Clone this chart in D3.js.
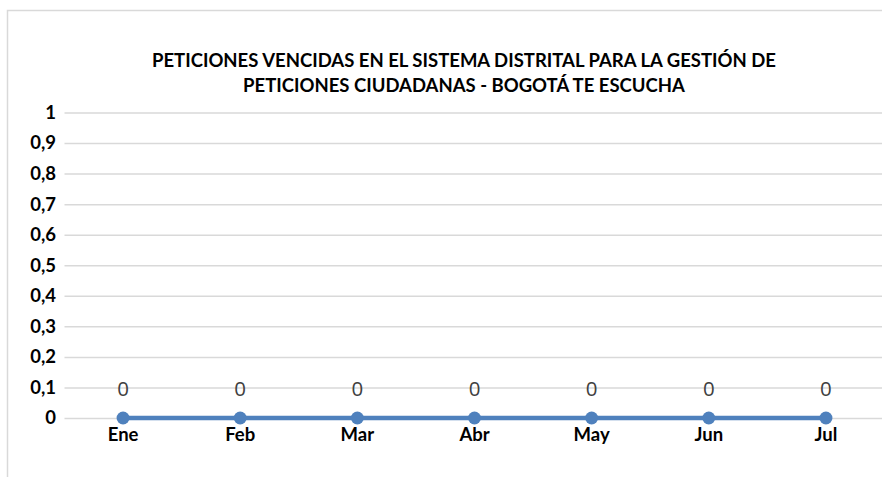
<!DOCTYPE html>
<html>
<head>
<meta charset="utf-8">
<script src="https://cdn.jsdelivr.net/npm/d3@7"></script>
<style>
  body { margin: 0; background: #fff; }
  svg { display: block; font-family: Lato, "Open Sans", sans-serif; }
</style>
</head>
<body>
<div id="chart"></div>
<script>
// data
var months = ["Ene", "Feb", "Mar", "Abr", "May", "Jun", "Jul"];
var values = [0, 0, 0, 0, 0, 0, 0];
var yTicks = [0, 0.1, 0.2, 0.3, 0.4, 0.5, 0.6, 0.7, 0.8, 0.9, 1];
var titleLines = ["PETICIONES VENCIDAS EN EL SISTEMA DISTRITAL PARA LA GESTIÓN DE",
                  "PETICIONES CIUDADANAS - BOGOTÁ TE ESCUCHA"];

var w = 882;
var h = 477;
var plotLeft = 64.5, plotRight = 884.5, plotTop = 112.5, plotBottom = 418;

var svg = d3.select("#chart")
            .append("svg")
            .attr("width", w)
            .attr("height", h);

// chart border (runs off the right and bottom edges)
svg.append("rect")
   .attr("x", 7.5).attr("y", 10.5)
   .attr("width", 900).attr("height", 500)
   .attr("fill", "none")
   .attr("stroke", "#d9d9d9")
   .attr("stroke-width", 1.5);

svg.selectAll("text.title")
   .data(titleLines)
   .enter()
   .append("text")
   .attr("class", "title")
   .attr("x", 464)
   .attr("y", function(d, i) { return 67 + i * 25; })
   .attr("text-anchor", "middle")
   .attr("font-size", "18.5px")
   .attr("font-weight", "bold")
   .attr("fill", "#000")
   .text(function(d) { return d; });

var x = d3.scaleBand().domain(months).range([plotLeft, plotRight]);
var y = d3.scaleLinear().domain([0, 1]).range([plotBottom, plotTop]);

var fmt = function(d) { return String(d).replace(".", ","); };

// gridlines
svg.append("g")
   .attr("transform", "translate(" + plotLeft + ",0)")
   .call(d3.axisLeft(y).tickValues(yTicks).tickSize(-(plotRight - plotLeft)).tickFormat(""))
   .call(function(g) {
       g.select(".domain").remove();
       g.selectAll(".tick line").attr("stroke", "#d9d9d9").attr("stroke-width", 1.5);
   });

// y labels
svg.append("g")
   .attr("transform", "translate(56,0)")
   .call(d3.axisLeft(y).tickValues(yTicks).tickSize(0).tickPadding(0).tickFormat(fmt))
   .call(function(g) {
       g.select(".domain").remove();
       g.selectAll(".tick text")
        .attr("font-size", "18.5px")
        .attr("font-weight", "bold")
        .attr("font-family", "Lato, sans-serif")
        .attr("fill", "#000");
   });

// x labels
svg.append("g")
   .attr("transform", "translate(0," + plotBottom + ")")
   .call(d3.axisBottom(x).tickSize(0).tickPadding(10))
   .call(function(g) {
       g.select(".domain").remove();
       g.selectAll(".tick text")
        .attr("font-size", "18.5px")
        .attr("font-weight", "bold")
        .attr("font-family", "Lato, sans-serif")
        .attr("fill", "#000");
   });

var cx = function(d, i) { return x(months[i]) + x.bandwidth() / 2; };

var line = d3.line()
   .x(function(d, i) { return cx(d, i); })
   .y(function(d) { return y(d); });

svg.append("path")
   .datum(values)
   .attr("d", line)
   .attr("fill", "none")
   .attr("stroke", "#4f81bd")
   .attr("stroke-width", 4.5);

svg.selectAll("circle")
   .data(values)
   .enter()
   .append("circle")
   .attr("cx", cx)
   .attr("cy", function(d) { return y(d); })
   .attr("r", 6.5)
   .attr("fill", "#4f81bd");

svg.selectAll("text.lbl")
   .data(values)
   .enter()
   .append("text")
   .attr("class", "lbl")
   .attr("x", cx)
   .attr("y", function(d) { return y(d) - 22; })
   .attr("text-anchor", "middle")
   .attr("font-size", "20.5px")
   .attr("font-family", "'Open Sans', sans-serif")
   .attr("fill", "#404040")
   .text(function(d) { return fmt(d); });
</script>
</body>
</html>
